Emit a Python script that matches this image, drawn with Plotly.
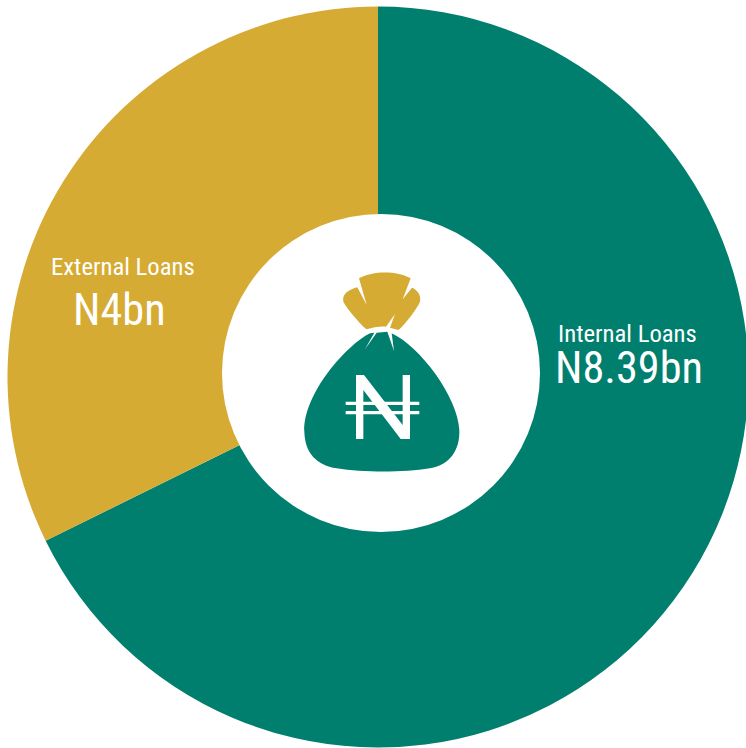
import plotly.graph_objects as go

categories = ["Internal Loans", "External Loans"]
values = [8.39, 4]
value_labels = ["N8.39bn", "N4bn"]
colors = ["#007F6E", "#D6AB33"]
W, H = 752, 752   # slightly larger than the window: the ring bleeds past the right/bottom edge
FONT = "Roboto Condensed, Liberation Sans Narrow, Roboto, sans-serif"

def zp(d):
    """Icon outline: zoom-crop pixel commands -> paper coordinates."""
    out, is_x = [], True
    for tok in d.split():
        if tok.isalpha():
            out.append(tok)
            continue
        v = float(tok)
        if is_x:
            out.append(f"{(280 + v / 3) / W:.5f}")
        else:
            out.append(f"{1 - (250 + v / 3) / H:.5f}")
        is_x = not is_x
    return " ".join(out)

BAG = ("M 270 250 C 200 285 70 430 73 545 C 75 610 110 645 170 655 C 250 668 370 668 450 655 "
       "C 510 645 540 600 538 540 C 533 440 420 290 335 250 L 342 303 L 322 245 L 290 248 L 255 298 L 283 248 Z")
TOP = ("M 237 85 C 280 62 350 62 392 85 L 368 148 L 396 113 C 410 118 425 135 420 155 "
       "C 415 170 375 225 355 240 L 330 233 L 345 192 L 318 230 C 300 228 280 232 260 238 "
       "C 240 222 200 175 190 155 C 185 130 210 118 232 112 L 260 165 Z")
NAIRA = ["M 228 375 L 252 375 L 368 525 L 368 375 L 390 375 L 390 567 L 362 567 L 250 420 L 250 567 L 228 567 Z",
         "M 197 455 L 418 455 L 418 465 L 197 465 Z",
         "M 197 483 L 418 483 L 418 493 L 197 493 Z"]

fig = go.Figure(go.Pie(
    labels=categories, values=values, sort=False, direction="clockwise", rotation=0,
    marker=dict(colors=colors, line=dict(width=0)), textinfo="none", hoverinfo="label+value",
    showlegend=False, domain=dict(x=[7.5 / W, 748.5 / W], y=[1 - 747.5 / H, 1 - 6.5 / H]),
))

cx, cy, r = 381, 373, 159
shapes = [
    dict(type="circle", xref="paper", yref="paper", x0=(cx - r) / W, x1=(cx + r) / W,
         y0=1 - (cy + r) / H, y1=1 - (cy - r) / H, fillcolor="white", line=dict(width=0)),
    dict(type="path", xref="paper", yref="paper", path=zp(BAG), fillcolor=colors[0], line=dict(width=0)),
    dict(type="path", xref="paper", yref="paper", path=zp(TOP), fillcolor=colors[1], line=dict(width=0)),
] + [dict(type="path", xref="paper", yref="paper", path=zp(p), fillcolor="white", line=dict(width=0)) for p in NAIRA]

def note(text, x, y, size):
    return dict(text=text, x=x / W, y=1 - y / H, xref="paper", yref="paper", showarrow=False,
                xanchor="center", yanchor="middle", font=dict(family=FONT, size=size, color="white"))

annotations = [
    note(categories[0], 627.5, 333.5, 24.7), note(value_labels[0], 628.5, 368.5, 44.3),
    note(categories[1], 123, 266, 24.7), note(value_labels[1], 119.5, 310, 44.3),
]

fig.update_layout(width=W, height=H, margin=dict(l=0, r=0, t=0, b=0), paper_bgcolor="white",
                  shapes=shapes, annotations=annotations)
fig.write_html("out.html", config=dict(displayModeBar=False),
               post_script="document.body.style.margin='0';document.body.style.overflow='hidden';")
